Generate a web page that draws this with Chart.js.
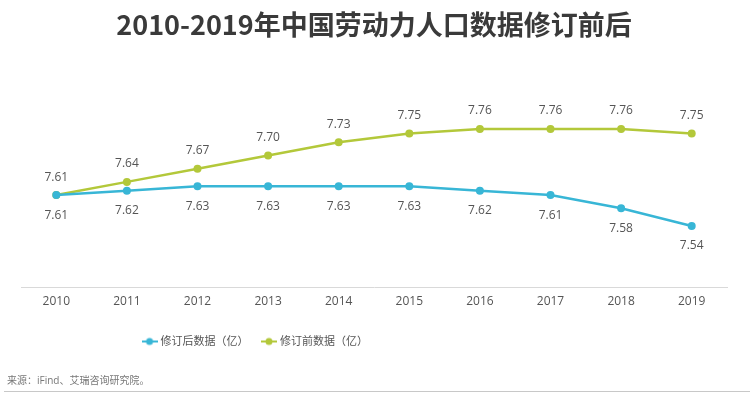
<!DOCTYPE html>
<html>
<head>
<meta charset="utf-8">
<script src="https://cdn.jsdelivr.net/npm/chart.js@4/dist/chart.umd.min.js"></script>
<style>
  html, body { margin: 0; padding: 0; background: #fff; }
  #wrap { width: 750px; height: 396px; position: relative; }
</style>
</head>
<body>
<div id="wrap"><canvas id="canvas"></canvas></div>
<script>
var years = ["2010","2011","2012","2013","2014","2015","2016","2017","2018","2019"];
var afterRevision = [7.61, 7.62, 7.63, 7.63, 7.63, 7.63, 7.62, 7.61, 7.58, 7.54];
var beforeRevision = [7.61, 7.64, 7.67, 7.70, 7.73, 7.75, 7.76, 7.76, 7.76, 7.75];

var blue = "#38b6d6";
var green = "#b3c83a";
var fontFamily = '"Open Sans", "Noto Sans CJK SC", sans-serif';

// legend marker: short line with a dot, like the original
function lineDot(color) {
  var c = document.createElement("canvas");
  c.width = 16; c.height = 10;
  var g = c.getContext("2d");
  g.strokeStyle = color; g.lineWidth = 2;
  g.beginPath(); g.moveTo(0, 5); g.lineTo(16, 5); g.stroke();
  g.fillStyle = color;
  g.beginPath(); g.arc(8, 5, 3.5, 0, Math.PI * 2); g.fill();
  return c;
}
var markers = [lineDot(blue), lineDot(green)];

// value labels: green above, blue below
var valueLabels = {
  id: "valueLabels",
  afterDatasetsDraw: function(chart) {
    var ctx = chart.ctx;
    ctx.save();
    ctx.font = "12px " + fontFamily;
    ctx.fillStyle = "#555";
    ctx.textAlign = "center";
    ctx.textBaseline = "middle";
    chart.data.datasets.forEach(function(ds, i) {
      var meta = chart.getDatasetMeta(i);
      meta.data.forEach(function(pt, j) {
        var off = i === 1 ? -18 : 20;
        ctx.fillText(ds.data[j].toFixed(2), pt.x, pt.y + off);
      });
    });
    ctx.restore();
  }
};

// source note and bottom rule
var sourceNote = {
  id: "sourceNote",
  afterLayout: function(chart) {
    var L = chart.legend;
    L.left -= 118; L.right -= 118;
    L.top += 5; L.bottom += 5;
  },
  afterDraw: function(chart) {
    var ctx = chart.ctx;
    ctx.save();
    ctx.font = "10px " + fontFamily;
    ctx.fillStyle = "#777";
    ctx.textBaseline = "middle";
    ctx.fillText("来源：iFind、艾瑞咨询研究院。", 7, 381);
    ctx.strokeStyle = "#c8c8c8";
    ctx.lineWidth = 1;
    ctx.beginPath(); ctx.moveTo(4, 391.5); ctx.lineTo(750, 391.5); ctx.stroke();
    ctx.restore();
  }
};

window.onload = function() {
  var ctx = document.getElementById("canvas").getContext("2d");
  window.myLine = new Chart(ctx, {
    type: "line",
    data: {
      labels: years,
      datasets: [
        {
          label: "修订后数据（亿）",
          data: afterRevision,
          borderColor: blue,
          backgroundColor: blue,
          borderWidth: 2.5,
          pointRadius: 4,
          pointStyle: "circle",
          pointBackgroundColor: blue,
          pointBorderWidth: 0,
          tension: 0
        },
        {
          label: "修订前数据（亿）",
          data: beforeRevision,
          borderColor: green,
          backgroundColor: green,
          borderWidth: 2.5,
          pointRadius: 4,
          pointStyle: "circle",
          pointBackgroundColor: green,
          pointBorderWidth: 0,
          tension: 0
        }
      ]
    },
    options: {
      responsive: true,
      maintainAspectRatio: false,
      animation: false,
      layout: { padding: { left: 21, right: 23, top: 0, bottom: 44 } },
      plugins: {
        title: {
          display: true,
          text: "2010-2019年中国劳动力人口数据修订前后",
          color: "#3a3a3a",
          font: { size: 27, weight: "bold", family: '"Noto Sans CJK SC", sans-serif' },
          padding: { top: 9, bottom: 70 }
        },
        legend: {
          position: "bottom",
          labels: {
            usePointStyle: true,
            color: "#555",
            font: { size: 11, family: fontFamily },
            padding: 15,
            generateLabels: function(chart) {
              var items = Chart.defaults.plugins.legend.labels.generateLabels(chart);
              items.forEach(function(it, i) { it.pointStyle = markers[i]; });
              return items;
            }
          }
        },
        tooltip: { enabled: false }
      },
      scales: {
        x: {
          offset: true,
          grid: { display: false, drawTicks: false },
          border: { display: true, color: "#d9d9d9", width: 1 },
          ticks: { color: "#555", font: { size: 12, family: fontFamily }, padding: 7 }
        },
        y: {
          display: false,
          min: 7.40,
          max: 7.80
        }
      }
    },
    plugins: [valueLabels, sourceNote]
  });
};
</script>
</body>
</html>
